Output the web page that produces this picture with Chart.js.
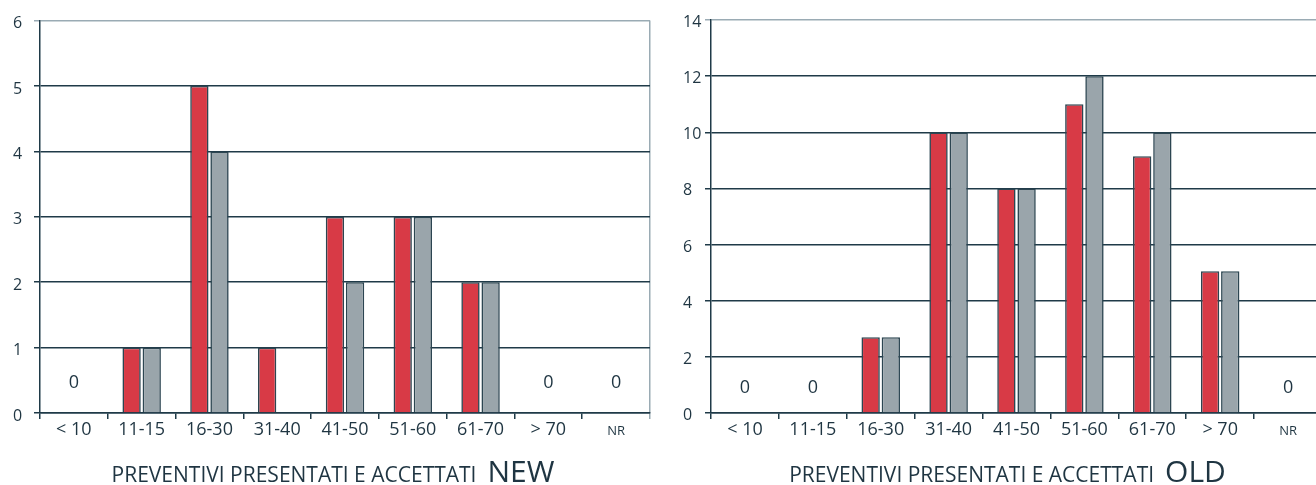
<!DOCTYPE html>
<html>
<head>
<meta charset="utf-8">
<script src="https://cdn.jsdelivr.net/npm/chart.js@4.4.1/dist/chart.umd.min.js"></script>
<style>
  html, body { margin: 0; padding: 0; background: #fff; overflow: hidden; width: 1316px; height: 485px; position: relative; }
  canvas { position: absolute; top: 0; }
  #chartNew { left: 0; }
  #chartOld { left: 660px; }
</style>
</head>
<body>
<canvas id="chartNew" width="666" height="485"></canvas>
<canvas id="chartOld" width="695" height="485"></canvas>
<script>
// Age bands (x categories)
const categories = ['< 10', '11-15', '16-30', '31-40', '41-50', '51-60', '61-70', '> 70', 'NR'];

// NEW: quotes presented (red) and accepted (grey)
const newPresentati = [0, 1, 5, 1, 3, 3, 2, 0, 0];
const newAccettati  = [0, 1, 4, 0, 2, 3, 2, 0, 0];

// OLD: quotes presented (red) and accepted (grey)
const oldPresentati = [0, 0, 2.7, 10, 8, 11, 9.15, 5.05, 0];
const oldAccettati  = [0, 0, 2.7, 10, 8, 12, 10, 5.05, 0];

// Y-axis tick values
const newTicks = [0, 1, 2, 3, 4, 5, 6];
const oldTicks = [0, 2, 4, 6, 8, 10, 12, 14];

const titleText = 'PREVENTIVI PRESENTATI E ACCETTATI';

const FAMILY = "'Open Sans', 'Noto Sans', sans-serif";
const INK = '#1f3542';
const GRID_DARK = '#1f3a48';
const GRID_LIGHT = '#9aabb4';
const RED = '#d83a46';
const GREY = '#9aa5ab';
const EDGE = '#2c4551';

// Writes "0" inside categories where every series is empty
const zeroMarks = {
  id: 'zeroMarks',
  afterDatasetsDraw(chart, args, o) {
    const { ctx, scales: { x, y } } = chart;
    const sets = chart.data.datasets;
    ctx.save();
    ctx.fillStyle = INK;
    ctx.font = `18px ${FAMILY}`;
    ctx.textAlign = 'center';
    ctx.textBaseline = 'middle';
    chart.data.labels.forEach((lab, i) => {
      if (sets.every(ds => ds.data[i] === 0)) {
        ctx.fillText('0', x.getPixelForValue(i), y.getPixelForValue(0) - o.offset);
      }
    });
    ctx.restore();
  }
};

// Caption under each panel: small caps text followed by a larger tag
const panelTitle = {
  id: 'panelTitle',
  afterDraw(chart, args, o) {
    const ctx = chart.ctx;
    ctx.save();
    ctx.fillStyle = INK;
    ctx.textBaseline = 'alphabetic';
    ctx.textAlign = 'left';
    ctx.font = `21px ${FAMILY}`;
    const w1 = ctx.measureText(o.text).width;
    ctx.font = `30px ${FAMILY}`;
    const w2 = ctx.measureText(o.tag).width;
    const gap = 11;
    const x0 = chart.width / 2 - (w1 + gap + w2) / 2;
    ctx.font = `21px ${FAMILY}`;
    ctx.fillText(o.text, x0, o.baseline);
    ctx.font = `30px ${FAMILY}`;
    ctx.fillText(o.tag, x0 + w1 + gap, o.baseline);
    ctx.restore();
  }
};

function makeChart(id, presentati, accettati, yTicks, opt) {
  const yMax = yTicks[yTicks.length - 1];
  const lastIdx = categories.length - 1;
  return new Chart(document.getElementById(id), {
    type: 'bar',
    data: {
      labels: categories,
      datasets: [
        { label: 'Presentati', data: presentati, backgroundColor: RED, borderColor: EDGE, borderWidth: 1.6 },
        { label: 'Accettati', data: accettati, backgroundColor: GREY, borderColor: EDGE, borderWidth: 1.6 }
      ]
    },
    options: {
      responsive: false,
      devicePixelRatio: 1,
      animation: false,
      layout: { padding: { left: opt.padLeft, right: opt.padRight, top: 20, bottom: 0 } },
      datasets: { bar: { categoryPercentage: 0.594, barPercentage: 0.91 } },
      plugins: {
        legend: { display: false },
        tooltip: { enabled: false },
        zeroMarks: { offset: opt.zeroOffset },
        panelTitle: { text: titleText, tag: opt.tag, baseline: 482 }
      },
      scales: {
        x: {
          grid: {
            offset: true,
            drawOnChartArea: true,
            color: c => (c.type === 'tick' ? 'rgba(0,0,0,0)' : GRID_LIGHT),
            tickColor: c => (c.type === 'tick' ? GRID_DARK : GRID_LIGHT),
            tickLength: 6,
            lineWidth: 1.5,
            tickWidth: 1.5
          },
          border: { color: GRID_DARK, width: 1.5 },
          ticks: {
            color: INK,
            padding: 0,
            autoSkip: false,
            maxRotation: 0,
            font: c => (c.index === lastIdx
              ? { family: FAMILY, size: 13, lineHeight: 1.9 }
              : { family: FAMILY, size: 18 })
          },
          afterFit: s => { s.height = 72; }
        },
        y: {
          min: 0,
          max: yMax,
          afterBuildTicks: s => { s.ticks = yTicks.map(v => ({ value: v })); },
          grid: {
            color: c => (c.tick && c.tick.value === yMax ? GRID_LIGHT : GRID_DARK),
            tickColor: c => (c.tick && c.tick.value === yMax ? GRID_LIGHT : GRID_DARK),
            tickLength: 6,
            lineWidth: 1.5,
            tickWidth: 1.5
          },
          border: { color: GRID_DARK, width: 1.5 },
          ticks: {
            color: INK,
            font: { family: FAMILY, size: 16 },
            padding: opt.tickPad,
            crossAlign: 'far',
            labelOffset: opt.labelOffset
          },
          afterFit: s => { s.width = opt.axisWidth; }
        }
      }
    },
    plugins: [zeroMarks, panelTitle]
  });
}

makeChart('chartNew', newPresentati, newAccettati, newTicks,
  { padLeft: 13, padRight: 16, axisWidth: 27, tickPad: 11, labelOffset: 3, zeroOffset: 30, tag: 'NEW' });
makeChart('chartOld', oldPresentati, oldAccettati, oldTicks,
  { padLeft: 23, padRight: 33, axisWidth: 28, tickPad: 3, labelOffset: 2.5, zeroOffset: 25, tag: 'OLD' });
</script>
</body>
</html>
